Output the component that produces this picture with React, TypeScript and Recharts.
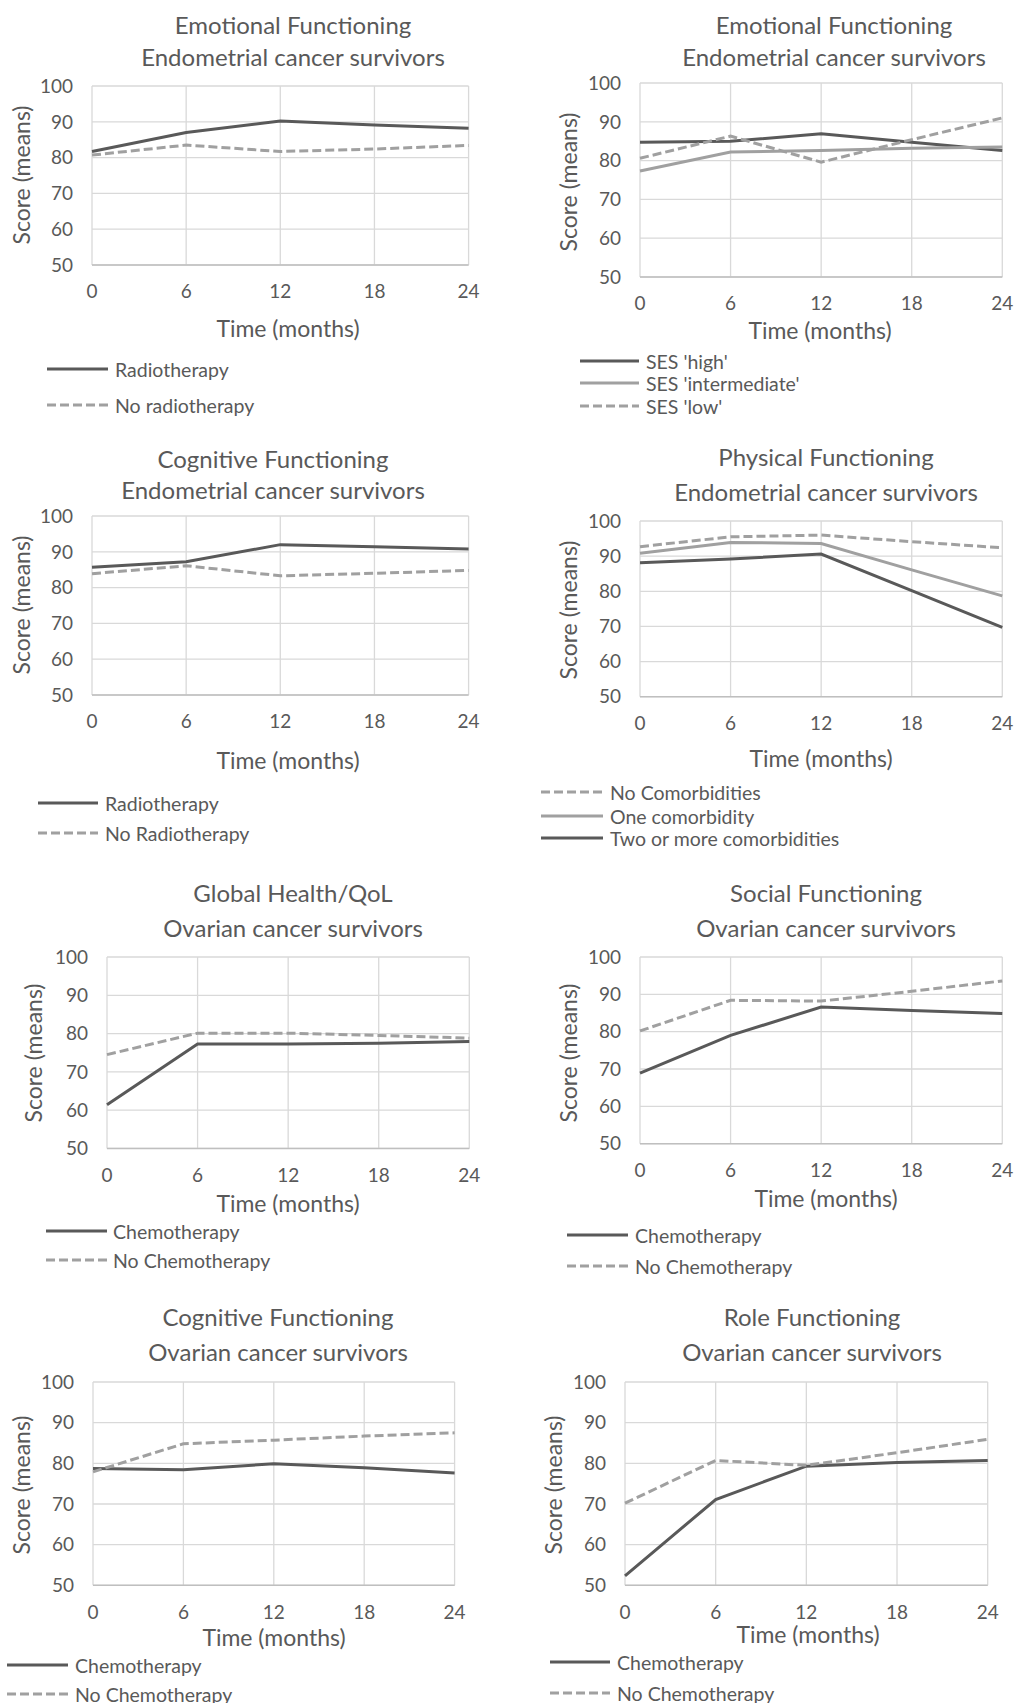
import { CartesianGrid, Line, LineChart, XAxis, YAxis } from "recharts";

const months = [0, 6, 12, 18, 24];
const yTicks = [50, 60, 70, 80, 90, 100];

// Endometrial – emotional functioning by radiotherapy
const emoRadio = [81.7, 87.0, 90.2, 89.1, 88.2];
const emoNoRadio = [80.7, 83.5, 81.7, 82.4, 83.4];
// Endometrial – emotional functioning by SES
const sesHigh = [84.7, 85.0, 86.9, 84.7, 82.6];
const sesIntermediate = [77.3, 82.2, 82.6, 83.2, 83.5];
const sesLow = [80.6, 86.3, 79.6, 85.4, 91.0];
// Endometrial – cognitive functioning by radiotherapy
const cogRadio = [85.7, 87.2, 92.0, 91.4, 90.8];
const cogNoRadio = [83.9, 86.1, 83.3, 84.0, 84.8];
// Endometrial – physical functioning by comorbidities
const physNone = [92.7, 95.5, 96.0, 94.1, 92.4];
const physOne = [90.8, 93.9, 93.6, 86.1, 78.7];
const physTwoPlus = [88.1, 89.2, 90.6, 80.2, 69.7];
// Ovarian – global health/QoL by chemotherapy
const qolChemo = [61.4, 77.3, 77.3, 77.5, 77.9];
const qolNoChemo = [74.5, 80.1, 80.1, 79.5, 78.8];
// Ovarian – social functioning by chemotherapy
const socChemo = [68.9, 79.0, 86.6, 85.7, 84.9];
const socNoChemo = [80.2, 88.4, 88.2, 90.8, 93.6];
// Ovarian – cognitive functioning by chemotherapy
const ovCogChemo = [78.7, 78.4, 79.9, 78.9, 77.6];
const ovCogNoChemo = [77.9, 84.8, 85.7, 86.7, 87.5];
// Ovarian – role functioning by chemotherapy
const roleChemo = [52.3, 71.1, 79.3, 80.2, 80.7];
const roleNoChemo = [70.2, 80.7, 79.5, 82.6, 85.9];

const DARK = "#595959";
const LIGHT = "#a0a0a0";
const TEXT = "#595959";
const FONT = "Lato, 'Noto Sans', sans-serif";

interface Series {
  name: string;
  values: number[];
  color: string;
  dashed?: boolean;
}

interface PanelDef {
  title: [string, string];
  series: Series[];
  plot: [number, number, number, number]; // left, top, right, bottom
  titleX: number;
  titleY: [number, number];
  xTitle: [number, number];
  yTitle: [number, number];
  legend: { x1: number; x2: number; tx: number; rows: number[] };
}

const panels: PanelDef[] = [
  {
    title: ["Emotional Functioning", "Endometrial cancer survivors"],
    series: [
      { name: "Radiotherapy", values: emoRadio, color: DARK },
      { name: "No radiotherapy", values: emoNoRadio, color: LIGHT, dashed: true },
    ],
    plot: [91.7, 86, 468.3, 265],
    titleX: 293, titleY: [25, 57],
    xTitle: [288, 328], yTitle: [21, 175],
    legend: { x1: 47, x2: 108, tx: 115, rows: [369, 405] },
  },
  {
    title: ["Emotional Functioning", "Endometrial cancer survivors"],
    series: [
      { name: "SES 'high'", values: sesHigh, color: DARK },
      { name: "SES 'intermediate'", values: sesIntermediate, color: LIGHT },
      { name: "SES 'low'", values: sesLow, color: LIGHT, dashed: true },
    ],
    plot: [639.7, 83.3, 1002, 277.3],
    titleX: 834, titleY: [25, 57],
    xTitle: [820, 330], yTitle: [568, 182],
    legend: { x1: 580, x2: 639, tx: 646, rows: [361, 383, 406] },
  },
  {
    title: ["Cognitive Functioning", "Endometrial cancer survivors"],
    series: [
      { name: "Radiotherapy", values: cogRadio, color: DARK },
      { name: "No Radiotherapy", values: cogNoRadio, color: LIGHT, dashed: true },
    ],
    plot: [91.7, 516, 468.3, 695],
    titleX: 273, titleY: [459, 490],
    xTitle: [288, 760], yTitle: [21, 605],
    legend: { x1: 38, x2: 98, tx: 105, rows: [803, 833] },
  },
  {
    title: ["Physical Functioning", "Endometrial cancer survivors"],
    series: [
      { name: "No Comorbidities", values: physNone, color: LIGHT, dashed: true },
      { name: "One comorbidity", values: physOne, color: LIGHT },
      { name: "Two or more comorbidities", values: physTwoPlus, color: DARK },
    ],
    plot: [639.7, 521, 1002, 696.7],
    titleX: 826, titleY: [457, 492],
    xTitle: [821, 758], yTitle: [568, 610],
    legend: { x1: 541, x2: 603, tx: 610, rows: [792, 816, 838] },
  },
  {
    title: ["Global Health/QoL", "Ovarian cancer survivors"],
    series: [
      { name: "Chemotherapy", values: qolChemo, color: DARK },
      { name: "No Chemotherapy", values: qolNoChemo, color: LIGHT, dashed: true },
    ],
    plot: [106.7, 957.3, 469, 1148.7],
    titleX: 293, titleY: [893, 928],
    xTitle: [288, 1203], yTitle: [33, 1053],
    legend: { x1: 46, x2: 107, tx: 113, rows: [1231, 1260] },
  },
  {
    title: ["Social Functioning", "Ovarian cancer survivors"],
    series: [
      { name: "Chemotherapy", values: socChemo, color: DARK },
      { name: "No Chemotherapy", values: socNoChemo, color: LIGHT, dashed: true },
    ],
    plot: [639.7, 957.3, 1002, 1144],
    titleX: 826, titleY: [893, 928],
    xTitle: [826, 1198], yTitle: [568, 1053],
    legend: { x1: 567, x2: 628, tx: 635, rows: [1235, 1266] },
  },
  {
    title: ["Cognitive Functioning", "Ovarian cancer survivors"],
    series: [
      { name: "Chemotherapy", values: ovCogChemo, color: DARK },
      { name: "No Chemotherapy", values: ovCogNoChemo, color: LIGHT, dashed: true },
    ],
    plot: [92.7, 1381.7, 454.3, 1585],
    titleX: 278, titleY: [1317, 1352],
    xTitle: [274, 1637], yTitle: [21, 1485],
    legend: { x1: 7, x2: 68, tx: 75, rows: [1665, 1694] },
  },
  {
    title: ["Role Functioning", "Ovarian cancer survivors"],
    series: [
      { name: "Chemotherapy", values: roleChemo, color: DARK },
      { name: "No Chemotherapy", values: roleNoChemo, color: LIGHT, dashed: true },
    ],
    plot: [625.3, 1381.7, 988, 1585],
    titleX: 812, titleY: [1317, 1352],
    xTitle: [808, 1634], yTitle: [553, 1485],
    legend: { x1: 550, x2: 610, tx: 617, rows: [1662, 1693] },
  },
];

const YW = 70;
const XH = 60;
const MT = 20;
const MR = 24;

function Panel({ p }: { p: PanelDef }) {
  const data = months.map((m, i) => {
    const row: Record<string, number> = { month: m };
    p.series.forEach((s, k) => (row[`s${k}`] = s.values[i]));
    return row;
  });
  const [pl, pt, pr, pb] = p.plot;
  const width = pr - pl + YW + MR;
  const height = pb - pt + MT + XH;

  return (
    <>
      {p.title.map((t, i) => (
        <div
          key={i}
          style={{
            position: "absolute", left: p.titleX - 250, width: 500, top: p.titleY[i] - 16,
            height: 32, lineHeight: "32px", textAlign: "center", fontSize: 24, color: TEXT,
          }}
        >
          {t}
        </div>
      ))}

      <div style={{ position: "absolute", left: pl - YW, top: pt - MT }}>
        <LineChart width={width} height={height} data={data} margin={{ top: MT, right: MR, left: 0, bottom: 0 }}>
          <CartesianGrid stroke="#d9d9d9" strokeWidth={1.3} />
          <XAxis
            dataKey="month" type="number" domain={[0, 24]} ticks={months} interval={0}
            height={XH} tickLine={false} tickSize={0} tickMargin={20}
            axisLine={{ stroke: "#bfbfbf", strokeWidth: 1.5 }}
            tick={{ fill: TEXT, fontSize: 19 }}
          />
          <YAxis
            type="number" domain={[50, 100]} ticks={yTicks} interval={0}
            width={YW} axisLine={false} tickLine={false} tickSize={0} tickMargin={19}
            tick={{ fill: TEXT, fontSize: 19 }}
          />
          {p.series.map((s, k) => (
            <Line
              key={k} type="linear" dataKey={`s${k}`} name={s.name} stroke={s.color}
              strokeWidth={3} strokeDasharray={s.dashed ? "9 4" : undefined}
              dot={false} activeDot={false} isAnimationActive={false}
            />
          ))}
        </LineChart>
      </div>

      <div
        style={{
          position: "absolute", left: p.xTitle[0] - 150, width: 300, top: p.xTitle[1] - 16,
          height: 32, lineHeight: "32px", textAlign: "center", fontSize: 23, color: TEXT,
        }}
      >
        Time (months)
      </div>
      <div
        style={{
          position: "absolute", left: p.yTitle[0] - 100, top: p.yTitle[1] - 16, width: 200,
          height: 32, lineHeight: "32px", textAlign: "center", fontSize: 23, color: TEXT,
          transform: "rotate(-90deg)",
        }}
      >
        Score (means)
      </div>

      {/* Legend */}
      {p.series.map((s, k) => (
        <div
          key={k}
          style={{
            position: "absolute", left: p.legend.x1, top: p.legend.rows[k] - 12, height: 24,
            display: "flex", alignItems: "center", whiteSpace: "nowrap",
          }}
        >
          <svg width={p.legend.x2 - p.legend.x1} height={6}>
            <line
              x1={0} y1={3} x2={p.legend.x2 - p.legend.x1} y2={3} stroke={s.color}
              strokeWidth={3} strokeDasharray={s.dashed ? "9 4" : undefined}
            />
          </svg>
          <span style={{ marginLeft: p.legend.tx - p.legend.x2, fontSize: 19.5, color: TEXT }}>{s.name}</span>
        </div>
      ))}
    </>
  );
}

export default function App() {
  return (
    <div
      style={{
        position: "absolute", left: 0, top: 0, width: 1016, height: 1703,
        background: "#fff", fontFamily: FONT, overflow: "hidden",
      }}
    >
      {panels.map((p, i) => (
        <Panel key={i} p={p} />
      ))}
    </div>
  );
}
